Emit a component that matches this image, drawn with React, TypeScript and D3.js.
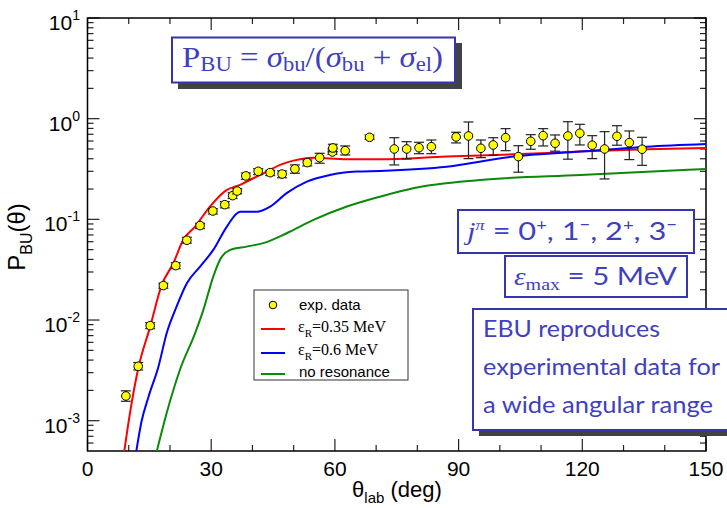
import React from 'react'
import * as d3 from 'd3'

const width = 727
const height = 508

// experimental points (angle in deg, P_BU, lower and upper end of the error bar)
const expAngle = [9.3, 12.3, 15.2, 18.4, 21.4, 24.1, 27.3, 30.4, 33.3, 35.2, 36.3, 38.4, 41.4, 44.3, 47.2, 50.3, 53.3, 56.3, 59.4, 59.5, 62.5, 68.4,
  74.4, 77.4, 80.4, 83.4, 89.4, 92.4, 95.4, 98.4, 101.4, 104.5, 107.5, 110.5, 113.4, 116.5, 119.4, 122.4, 125.4, 128.4, 131.4, 134.5]
const expValue = [0.00176, 0.00347, 0.0088, 0.022, 0.0347, 0.062, 0.0867, 0.121, 0.14, 0.172, 0.191, 0.27, 0.3, 0.291, 0.282, 0.317, 0.366, 0.41, 0.467, 0.512, 0.481, 0.653,
  0.5, 0.5, 0.515, 0.527, 0.658, 0.673, 0.508, 0.548, 0.647, 0.42, 0.596, 0.678, 0.57, 0.673, 0.716, 0.545, 0.5, 0.668, 0.578, 0.497]
const expLow = [0.00156, 0.00319, 0.0082, 0.0207, 0.0324, 0.058, 0.081, 0.113, 0.13, 0.161, 0.179, 0.25, 0.278, 0.272, 0.259, 0.287, 0.339, 0.361, 0.443, 0.47, 0.436, 0.624,
  0.347, 0.398, 0.449, 0.449, 0.574, 0.401, 0.41, 0.433, 0.481, 0.294, 0.497, 0.536, 0.475, 0.396, 0.548, 0.401, 0.252, 0.545, 0.392, 0.344]
const expHigh = [0.00198, 0.00378, 0.0094, 0.0232, 0.0372, 0.0664, 0.0914, 0.128, 0.15, 0.184, 0.202, 0.289, 0.319, 0.307, 0.303, 0.347, 0.389, 0.453, 0.5, 0.557, 0.536, 0.689,
  0.647, 0.591, 0.583, 0.614, 0.733, 0.927, 0.614, 0.647, 0.796, 0.539, 0.694, 0.796, 0.689, 0.933, 0.879, 0.678, 0.743, 0.852, 0.755, 0.653]

// eps_R = 0.35 MeV
const redAngle = [8.8, 10.3, 12.3, 15.2, 18.0, 20.8, 23.2, 26.1, 29.7, 33.8, 37.0, 40.2, 43.5, 46.7, 49.9, 54.8, 62.9, 70.9, 87.0, 103.3, 119.5, 135.6, 150]
const redValue = [4.6e-4, 1.19e-3, 3.3e-3, 8.6e-3, 0.0223, 0.0366, 0.0623, 0.0848, 0.134, 0.196, 0.22, 0.256, 0.298, 0.347, 0.383, 0.41, 0.395, 0.395, 0.42, 0.443, 0.471, 0.497, 0.512]
// eps_R = 0.6 MeV
const blueAngle = [11.7, 13.1, 14.8, 17.2, 19.2, 21.6, 24.1, 27.3, 30.5, 33.8, 37.0, 41.0, 44.3, 48.3, 53.2, 58.8, 65.3, 70.9, 87.1, 103.3, 119.5, 135.6, 150]
const blueValue = [4.6e-4, 9.8e-4, 1.73e-3, 3.44e-3, 7.4e-3, 0.0136, 0.0232, 0.0339, 0.0497, 0.0848, 0.119, 0.119, 0.134, 0.182, 0.237, 0.276, 0.298, 0.303, 0.333, 0.42, 0.471, 0.527, 0.561]
// no resonance
const greenAngle = [16.6, 19.2, 22.4, 26.1, 28.1, 30.5, 32.1, 34.6, 38.6, 42.6, 48.3, 54.8, 62.9, 70.9, 79.0, 95.2, 119.5, 150]
const greenValue = [4.6e-4, 1.19e-3, 3.19e-3, 7.4e-3, 0.0126, 0.027, 0.0395, 0.0497, 0.0536, 0.058, 0.0728, 0.0986, 0.134, 0.168, 0.204, 0.246, 0.276, 0.316]

const xMajor = [0, 30, 60, 90, 120, 150]
const xMinor = [10, 20, 40, 50, 70, 80, 100, 110, 130, 140]
const yExponents = [-3, -2, -1, 0, 1]

const boxBlue = '#3535b0'
const textBlue = '#3f3fbf'
const shadow = '#424242'

const margin = { left: 87.5, right: 706, top: 18, bottom: 451 }

const App = () => {
  const x = d3.scaleLinear().domain([0, 150]).range([margin.left, margin.right])
  const y = d3.scaleLog().domain([5e-4, 10]).range([margin.bottom, margin.top])

  const yMinor: number[] = []
  for (let e = -4; e <= 0; e++) {
    for (let k = 2; k <= 9; k++) {
      const v = k * Math.pow(10, e)
      if (v > 5e-4 && v < 10) yMinor.push(v)
    }
  }

  const line = (xs: number[], vs: number[]) =>
    d3.line<number>().x((d, i) => x(xs[i])).y(d => y(d)).curve(d3.curveMonotoneX)(vs) || ''

  const curves = [
    { xs: redAngle, vs: redValue, color: '#ff0000' },
    { xs: blueAngle, vs: blueValue, color: '#0000ff' },
    { xs: greenAngle, vs: greenValue, color: '#0a8a0a' },
  ]

  const tickColor = '#222'
  const sans = 'Liberation Sans, Arial, sans-serif'
  const serif = 'Liberation Serif, Times New Roman, serif'
  const lmsans = 'Lato, Open Sans, sans-serif'

  return (
    <svg width={width} height={height} style={{ position: 'absolute', left: 0, top: 0, background: '#fff' }}>
      <defs>
        <clipPath id="plotclip">
          <rect x={margin.left} y={margin.top} width={margin.right - margin.left} height={margin.bottom - margin.top} />
        </clipPath>
      </defs>

      {/* ticks */}
      {xMajor.map(t => (
        <g key={'xM' + t} stroke={tickColor} strokeWidth={1.2}>
          <line x1={x(t)} x2={x(t)} y1={margin.bottom} y2={margin.bottom - 12} />
          <line x1={x(t)} x2={x(t)} y1={margin.top} y2={margin.top + 12} />
        </g>
      ))}
      {xMinor.map(t => (
        <g key={'xm' + t} stroke={tickColor} strokeWidth={1.2}>
          <line x1={x(t)} x2={x(t)} y1={margin.bottom} y2={margin.bottom - 6} />
          <line x1={x(t)} x2={x(t)} y1={margin.top} y2={margin.top + 6} />
        </g>
      ))}
      {yExponents.map(e => (
        <g key={'yM' + e} stroke={tickColor} strokeWidth={1.2}>
          <line x1={margin.left} x2={margin.left + 12} y1={y(Math.pow(10, e))} y2={y(Math.pow(10, e))} />
          <line x1={margin.right} x2={margin.right - 12} y1={y(Math.pow(10, e))} y2={y(Math.pow(10, e))} />
        </g>
      ))}
      {yMinor.map(v => (
        <g key={'ym' + v} stroke={tickColor} strokeWidth={1.2}>
          <line x1={margin.left} x2={margin.left + 6} y1={y(v)} y2={y(v)} />
          <line x1={margin.right} x2={margin.right - 6} y1={y(v)} y2={y(v)} />
        </g>
      ))}

      {/* frame */}
      <rect x={margin.left} y={margin.top} width={margin.right - margin.left} height={margin.bottom - margin.top}
        fill="none" stroke="#000" strokeWidth={1.5} />

      {/* tick labels */}
      {xMajor.map(t => (
        <text key={'xl' + t} x={x(t)} y={476} textAnchor="middle" fontFamily={sans} fontSize={21}>{t}</text>
      ))}
      {yExponents.map(e => (
        <text key={'yl' + e} x={80} y={y(Math.pow(10, e)) + 12} textAnchor="end" fontFamily={sans} fontSize={21}>
          10<tspan dy={-10} fontSize={14}>{e < 0 ? '-' + -e : e}</tspan>
        </text>
      ))}

      {/* axis titles */}
      <text x={397} y={497} textAnchor="middle" fontFamily={sans} fontSize={22}>
        θ<tspan dy={6} fontSize={15}>lab</tspan><tspan dy={-6}> (deg)</tspan>
      </text>
      <text transform="translate(25,237) rotate(-90)" textAnchor="middle" fontFamily={sans} fontSize={24}>
        P<tspan dy={7} fontSize={16}>BU</tspan><tspan dy={-7}>(θ)</tspan>
      </text>

      {/* curves */}
      <g clipPath="url(#plotclip)">
        {curves.map((c, i) => (
          <path key={'c' + i} d={line(c.xs, c.vs)} fill="none" stroke={c.color} strokeWidth={2} />
        ))}
      </g>

      {/* experimental data */}
      {expAngle.map((a, i) => {
        const cx = x(a)
        return (
          <g key={'p' + i} stroke="#222" strokeWidth={1.2}>
            <line x1={cx} x2={cx} y1={y(expLow[i])} y2={y(expHigh[i])} />
            <line x1={cx - 5} x2={cx + 5} y1={y(expLow[i])} y2={y(expLow[i])} />
            <line x1={cx - 5} x2={cx + 5} y1={y(expHigh[i])} y2={y(expHigh[i])} />
            <circle cx={cx} cy={y(expValue[i])} r={4.3} fill="#ffff00" stroke="#000" strokeWidth={1} />
          </g>
        )
      })}

      {/* legend */}
      <rect x={254} y={290} width={154} height={90} fill="#fff" stroke="#333" strokeWidth={1} />
      <circle cx={273} cy={305} r={3.8} fill="#ffff00" stroke="#000" strokeWidth={1} />
      <text x={299} y={310} fontFamily={sans} fontSize={15}>exp. data</text>
      <line x1={261} x2={285} y1={329} y2={329} stroke="#ff0000" strokeWidth={2} />
      <text x={298} y={332} fontFamily={serif} fontSize={16}>ε<tspan dy={5} fontSize={11}>R</tspan><tspan dy={-5}>=0.35 MeV</tspan></text>
      <line x1={261} x2={285} y1={353} y2={353} stroke="#0000ff" strokeWidth={2} />
      <text x={298} y={355} fontFamily={serif} fontSize={16}>ε<tspan dy={5} fontSize={11}>R</tspan><tspan dy={-5}>=0.6 MeV</tspan></text>
      <line x1={261} x2={285} y1={374} y2={374} stroke="#0a8a0a" strokeWidth={2} />
      <text x={299} y={377} fontFamily={sans} fontSize={15}>no resonance</text>

      {/* formula box */}
      <rect x={178} y={43} width={284} height={46} fill={shadow} />
      <rect x={172} y={37.5} width={283} height={45} fill="#fff" stroke={boxBlue} strokeWidth={2} />
      <text x={182} y={67} fontFamily={serif} fontSize={29} fill={textBlue} textLength={261} lengthAdjust="spacingAndGlyphs">
        P<tspan dy={4} fontSize={20}>BU</tspan><tspan dy={-4}> = </tspan><tspan fontStyle="italic">σ</tspan><tspan dy={4} fontSize={20}>bu</tspan><tspan dy={-4}>/(</tspan><tspan fontStyle="italic">σ</tspan><tspan dy={4} fontSize={20}>bu</tspan><tspan dy={-4}> + </tspan><tspan fontStyle="italic">σ</tspan><tspan dy={4} fontSize={20}>el</tspan><tspan dy={-4}>)</tspan>
      </text>

      {/* j^pi box */}
      <rect x={458} y={210} width={236} height={43} fill="#fff" stroke={boxBlue} strokeWidth={2} />
      <text x={467} y={240} fontFamily={lmsans} fontSize={25} fill={textBlue} textLength={210} lengthAdjust="spacingAndGlyphs">
        <tspan fontFamily={serif} fontStyle="italic">j</tspan><tspan dy={-10} fontSize={15} fontFamily={serif} fontStyle="italic">π</tspan><tspan dy={10}> = 0</tspan><tspan dy={-10} fontSize={15}>+</tspan><tspan dy={10}>, 1</tspan><tspan dy={-10} fontSize={15}>−</tspan><tspan dy={10}>, 2</tspan><tspan dy={-10} fontSize={15}>+</tspan><tspan dy={10}>, 3</tspan><tspan dy={-10} fontSize={15}>−</tspan>
      </text>

      {/* eps_max box */}
      <rect x={505} y={256} width={182} height={41} fill="#fff" stroke={boxBlue} strokeWidth={2} />
      <text x={514} y={285} fontFamily={lmsans} fontSize={25} fill={textBlue} textLength={163} lengthAdjust="spacingAndGlyphs">
        <tspan fontFamily={serif} fontStyle="italic">ε</tspan><tspan dy={5} fontSize={17} fontFamily={serif}>max</tspan><tspan dy={-5}> = 5 MeV</tspan>
      </text>

      {/* EBU box */}
      <rect x={479} y={315} width={260} height={121} fill={shadow} />
      <rect x={473} y={309} width={270} height={121} fill="#fff" stroke={boxBlue} strokeWidth={2} />
      <text x={483} y={337} fontFamily={lmsans} fontSize={23} fill={textBlue} textLength={177} lengthAdjust="spacingAndGlyphs">EBU reproduces</text>
      <text x={483} y={375} fontFamily={lmsans} fontSize={23} fill={textBlue} textLength={237} lengthAdjust="spacingAndGlyphs">experimental data for</text>
      <text x={483} y={413} fontFamily={lmsans} fontSize={23} fill={textBlue} textLength={230} lengthAdjust="spacingAndGlyphs">a wide angular range</text>
    </svg>
  )
}

export default App
